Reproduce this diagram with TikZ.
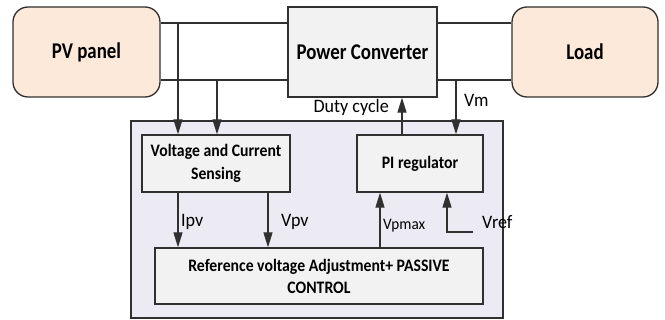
\documentclass[tikz,border=0pt]{standalone}
\usepackage{fontspec}
\setmainfont{Carlito}
\newfontfamily\nf{Carlito}[FakeStretch=0.84]
\newfontfamily\nfb{Carlito}[FakeStretch=0.9]
\newfontfamily\nfs{Carlito}[FakeStretch=0.95]
\usetikzlibrary{arrows.meta}
\definecolor{peach}{HTML}{FCE9DA}
\definecolor{boxgray}{HTML}{F2F2F2}
\definecolor{lav}{HTML}{ECEAF2}
\definecolor{edge}{HTML}{303030}
\tikzset{
  bigbox/.style={draw=edge, line width=1.3pt, fill=boxgray, inner sep=0pt,
    font=\nf\bfseries\fontsize{22.5}{26}\selectfont},
  srcbox/.style={bigbox, fill=peach, rounded corners=15pt},
  innerbox/.style={draw=edge, line width=1.3pt, fill=boxgray, inner sep=0pt, align=center,
    font=\nfb\bfseries\fontsize{17.5}{23.5}\selectfont},
  outerbox/.style={draw=edge, line width=1.3pt, fill=lav, inner sep=0pt},
  wire/.style={draw=edge, line width=1.2pt},
  arr/.style={wire, -{Triangle[length=15pt,width=9pt]}},
  sig/.style={inner sep=0pt, font=\nfs\fontsize{19}{21}\selectfont},
  sigsmall/.style={inner sep=0pt, font=\nfs\fontsize{16}{18}\selectfont}
}
\begin{document}
\begin{tikzpicture}[x=1pt,y=-1pt]
\useasboundingbox (0,0) rectangle (665,320);
% outer control box
\node[outerbox, minimum width=372pt, minimum height=197pt] (outer) at (317,219.5) {};
% top row
\node[srcbox, minimum width=147pt, minimum height=90pt] (pv) at (86.5,52) {PV panel};
\node[bigbox, minimum width=149pt, minimum height=90pt] (pc) at (362.5,52) {Power Converter};
\node[srcbox, minimum width=146pt, minimum height=90pt] (load) at (585,52) {Load};
% inner boxes
\node[innerbox, minimum width=148pt, minimum height=57pt] (vc) at (216,163.5) {Voltage and Current\\Sensing};
\node[innerbox, minimum width=126pt, minimum height=57pt] (pi) at (420,163.5) {PI regulator};
\node[innerbox, minimum width=328pt, minimum height=56pt, font=\nfb\bfseries\fontsize{17.5}{22}\selectfont] (ref) at (319,276) {Reference voltage Adjustment+ PASSIVE\\CONTROL};
% helper coordinates
\coordinate (yt) at (0,23);
\coordinate (yb) at (0,80);
\coordinate (s1) at (178,23);
\coordinate (s2) at (217,80);
\coordinate (vmx) at (456,80);
\coordinate (dx) at (402,0);
\coordinate (vpvx) at (268,0);
\coordinate (vpm) at (380,0);
\coordinate (vr) at (473,232);
\coordinate (vrx) at (447,232);
% power wires
\draw[wire] (pv.east |- yt) -- (pc.west |- yt);
\draw[wire] (pv.east |- yb) -- (pc.west |- yb);
\draw[wire] (pc.east |- yt) -- (load.west |- yt);
\draw[wire] (pc.east |- yb) -- (load.west |- yb);
% sensing arrows
\draw[arr] (s1) -- (s1 |- vc.north);
\draw[arr] (s2) -- (s2 |- vc.north);
\draw[arr] (dx |- pi.north) -- (dx |- pc.south);
\draw[arr] (vmx) -- (vmx |- pi.north);
\draw[arr] (s1 |- vc.south) -- (s1 |- ref.north);
\draw[arr] (vpvx |- vc.south) -- (vpvx |- ref.north);
\draw[arr] (vpm |- ref.north) -- (vpm |- pi.south);
\draw[arr] (vr) -- (vrx) -- (vrx |- pi.south);
% labels
\node[sig, anchor=east] (ldc) at (389,107) {Duty cycle};
\node[sig, anchor=west] (lvm) at (464,100) {Vm};
\node[sig, anchor=west] (lipv) at (181,222) {Ipv};
\node[sig, anchor=west] (lvpv) at (281,222) {Vpv};
\node[sigsmall, anchor=west] (lvpm) at (383,226) {Vpmax};
\node[sig, anchor=west] (lvref) at (482,222) {Vref};
\end{tikzpicture}
\end{document}
